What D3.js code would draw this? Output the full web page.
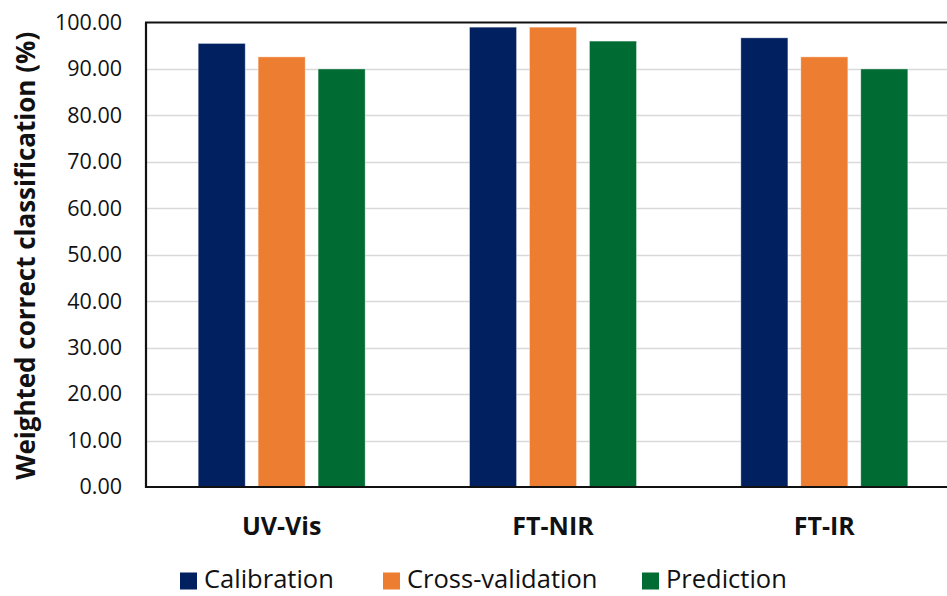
<!DOCTYPE html>
<html>
<head>
<meta charset="utf-8">
<script src="https://cdn.jsdelivr.net/npm/d3@7/dist/d3.min.js"></script>
<style>
  html, body { margin: 0; padding: 0; background: #fff; }
  svg { display: block; font-family: "Open Sans", "Noto Sans", sans-serif; }
</style>
</head>
<body>
<svg id="chart" width="947" height="596"></svg>
<script>
// Classification results per spectroscopic technique
const categories = ["UV-Vis", "FT-NIR", "FT-IR"];
const seriesNames = ["Calibration", "Cross-validation", "Prediction"];
const calibration = [95.5, 99.0, 96.7];
const crossValidation = [92.6, 99.0, 92.6];
const prediction = [90.0, 96.0, 90.0];
const yTicks = [0, 10, 20, 30, 40, 50, 60, 70, 80, 90, 100];
const colors = ["#002060", "#ED7D31", "#006B33"];

const seriesValues = [calibration, crossValidation, prediction];
const rows = categories.map((c, i) => ({
  category: c,
  values: seriesNames.map((s, j) => ({ series: s, value: seriesValues[j][i], color: colors[j] }))
}));

const svg = d3.select("#chart");
const plot = { left: 146, right: 960, top: 22.5, bottom: 487 };

const x0 = d3.scaleBand().domain(categories).range([plot.left, plot.right]).padding(0);
const x1 = d3.scaleBand().domain(seriesNames).range([-83.5, 83.5]).paddingInner(0.215).paddingOuter(0);
const y = d3.scaleLinear().domain([0, 100]).range([plot.bottom, plot.top]);

// Horizontal gridlines
svg.append("g")
  .selectAll("line")
  .data(yTicks.filter(t => t > 0 && t < 100))
  .join("line")
  .attr("x1", plot.left).attr("x2", plot.right)
  .attr("y1", d => Math.round(y(d)) + 0.5).attr("y2", d => Math.round(y(d)) + 0.5)
  .attr("stroke", "#d9d9d9").attr("stroke-width", 1.3);

// Bars
const groups = svg.append("g")
  .selectAll("g")
  .data(rows)
  .join("g")
  .attr("transform", d => `translate(${x0(d.category) + x0.bandwidth() / 2},0)`);

groups.selectAll("rect")
  .data(d => d.values)
  .join("rect")
  .attr("x", d => x1(d.series))
  .attr("width", x1.bandwidth())
  .attr("y", d => y(d.value))
  .attr("height", d => y(0) - y(d.value))
  .attr("fill", d => d.color)
  .attr("stroke", "#ffffff")
  .attr("stroke-opacity", 0.5)
  .attr("stroke-width", 0.8);

// Frame: left axis, bottom axis and top border
const frame = svg.append("g").attr("stroke", "#111").attr("stroke-width", 2.2).attr("fill", "none");
frame.append("line").attr("x1", plot.left).attr("x2", plot.left).attr("y1", plot.top).attr("y2", plot.bottom + 1);
frame.append("line").attr("x1", plot.left - 1).attr("x2", plot.right).attr("y1", plot.bottom).attr("y2", plot.bottom);
frame.append("line").attr("x1", plot.left - 1).attr("x2", plot.right).attr("y1", plot.top).attr("y2", plot.top);

// Y axis tick labels
const yAxis = d3.axisLeft(y).tickValues(yTicks).tickFormat(d3.format(".2f")).tickSize(0).tickPadding(24);
const yg = svg.append("g").attr("transform", `translate(${plot.left},0)`).call(yAxis);
yg.select(".domain").remove();
yg.selectAll("text")
  .attr("font-family", "Open Sans, sans-serif")
  .attr("font-size", 21.5)
  .attr("fill", "#111");

// X axis category labels
const xAxis = d3.axisBottom(x0).tickSize(0).tickPadding(30);
const xg = svg.append("g").attr("transform", `translate(0,${plot.bottom})`).call(xAxis);
xg.select(".domain").remove();
xg.selectAll("text")
  .attr("font-family", "Open Sans, sans-serif")
  .attr("font-weight", "bold")
  .attr("font-size", 25)
  .attr("fill", "#111");

// Y axis title
svg.append("text")
  .attr("transform", `translate(35,${(plot.top + plot.bottom) / 2 + 1}) rotate(-90)`)
  .attr("text-anchor", "middle")
  .attr("font-family", "Open Sans, sans-serif")
  .attr("font-weight", "bold")
  .attr("font-size", 26)
  .attr("fill", "#111")
  .text("Weighted correct classification (%)");

// Legend
const legendX = [180, 383, 642];
const legend = svg.append("g")
  .selectAll("g")
  .data(seriesNames)
  .join("g")
  .attr("transform", (d, i) => `translate(${legendX[i]},581)`);
legend.append("rect")
  .attr("x", 0).attr("y", -8.5).attr("width", 17).attr("height", 17)
  .attr("fill", (d, i) => colors[i]);
legend.append("text")
  .attr("x", 24).attr("y", 7)
  .attr("font-family", "Open Sans, sans-serif")
  .attr("font-size", 25.5)
  .attr("fill", "#111")
  .text(d => d);
</script>
</body>
</html>
